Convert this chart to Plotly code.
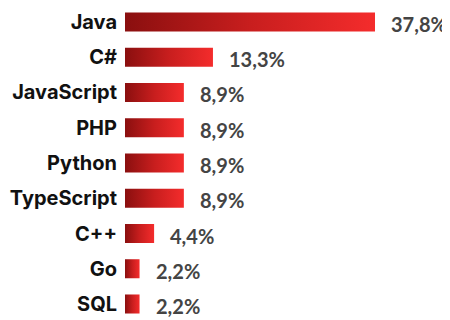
import plotly.graph_objects as go

languages = ["Java", "C#", "JavaScript", "PHP", "Python", "TypeScript", "C++", "Go", "SQL"]
shares = [37.8, 13.3, 8.9, 8.9, 8.9, 8.9, 4.4, 2.2, 2.2]
labels = ["37,8%", "13,3%", "8,9%", "8,9%", "8,9%", "8,9%", "4,4%", "2,2%", "2,2%"]

FONT = "Inter"
half = 0.27

fig = go.Figure()
for i, (lang, v) in enumerate(zip(languages, shares)):
    fig.add_trace(go.Scatter(
        x=[0, v, v, 0, 0],
        y=[i - half, i - half, i + half, i + half, i - half],
        mode="lines",
        fill="toself",
        line=dict(width=0),
        fillgradient=dict(type="horizontal",
                          colorscale=[[0, "#8A0F0F"], [0.5, "#C81E1E"], [1, "#F42C2C"]]),
        hoverinfo="skip",
        showlegend=False,
    ))
    fig.add_annotation(x=v, y=i, text=labels[i], showarrow=False,
                       xanchor="left", yanchor="middle", xshift=14, yshift=-2,
                       font=dict(family="Lato", size=20, color="#444444", weight="bold"))

fig.update_layout(
    width=442, height=312,
    margin=dict(l=117, r=0, t=0, b=0),
    paper_bgcolor="white", plot_bgcolor="white",
)
fig.update_xaxes(range=[0, 49.14], visible=False, fixedrange=True)
fig.update_yaxes(range=[8.454, -0.397], tickvals=list(range(len(languages))), ticktext=languages,
                 showgrid=False, zeroline=False, showline=False, ticks="",
                 ticklabelstandoff=7, automargin=False,
                 tickfont=dict(family=FONT, size=20, color="#111111", weight="bold"))

fig.write_html("out.html")
